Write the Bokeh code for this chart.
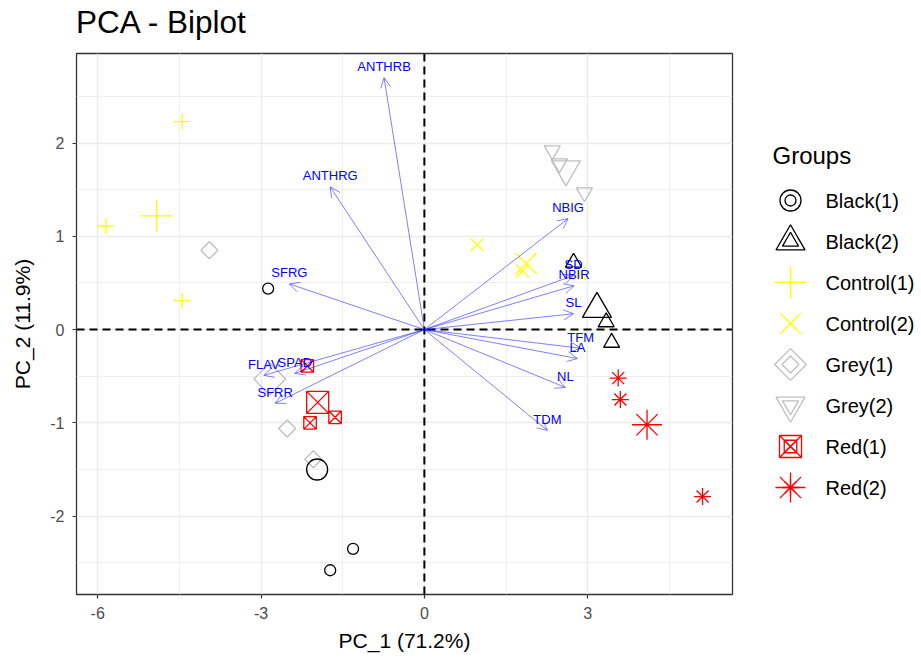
import math
from bokeh.plotting import figure
from bokeh.models import ColumnDataSource, Range1d, FixedTicker, Span, Arrow, OpenHead, Div
from bokeh.layouts import row, column
from bokeh.embed import file_html
from bokeh.resources import INLINE
from bokeh.core.properties import value

# ---------------- data ----------------
groups = ["Black(1)", "Black(2)", "Control(1)", "Control(2)",
          "Grey(1)", "Grey(2)", "Red(1)", "Red(2)"]
group_colors = ["#000000", "#000000", "#ffff00", "#ffff00",
                "#bebebe", "#bebebe", "#ff0000", "#ff0000"]

ind_group = ["Black(1)", "Black(1)", "Black(1)",
             "Black(2)", "Black(2)", "Black(2)",
             "Control(1)", "Control(1)", "Control(1)",
             "Control(2)", "Control(2)", "Control(2)",
             "Grey(1)", "Grey(1)", "Grey(1)",
             "Grey(2)", "Grey(2)", "Grey(2)",
             "Red(1)", "Red(1)", "Red(1)",
             "Red(2)", "Red(2)", "Red(2)"]
ind_pc1 = [-2.87, -1.31, -1.73,
           2.74, 3.34, 3.44,
           -4.45, -5.85, -4.45,
           0.97, 1.80, 2.85,
           -3.95, -2.52, -2.04,
           2.35, 2.48, 2.94,
           -2.15, -1.64, -2.10,
           3.56, 3.60, 5.11]
ind_pc2 = [0.44, -2.35, -2.58,
           0.72, 0.08, -0.14,
           2.23, 1.11, 0.31,
           0.91, 0.63, 0.60,
           0.85, -1.06, -1.39,
           1.92, 1.78, 1.47,
           -0.39, -0.94, -1.00,
           -0.52, -0.75, -1.79]

mean_pc1 = [-1.97, 3.17, -4.92, 1.87, -2.84, 2.60, -1.96, 4.09]
mean_pc2 = [-1.50, 0.22, 1.22, 0.71, -0.53, 1.72, -0.78, -1.02]

var_names = ["ANTHRB", "ANTHRG", "SFRG", "NBIG", "SD", "NBIR", "SL",
             "TFM", "LA", "NL", "TDM", "FLAV", "SPAD", "SFRR"]
var_pc1 = [-0.74, -1.73, -2.48, 2.64, 2.74, 2.75, 2.74,
           2.87, 2.81, 2.59, 2.26, -2.95, -2.38, -2.74]
var_pc2 = [2.70, 1.53, 0.49, 1.19, 0.58, 0.47, 0.17,
           -0.20, -0.31, -0.62, -1.08, -0.49, -0.47, -0.79]

x_ticks = [-6, -3, 0, 3]
x_minor = [-4.5, -1.5, 1.5, 4.5]
y_ticks = [-2, -1, 0, 1, 2]
y_minor = [-2.5, -1.5, -0.5, 0.5, 1.5, 2.5]

title_text = "PCA - Biplot"
x_label = "PC_1 (71.2%)"
y_label = "PC_2 (11.9%)"
legend_title = "Groups"

# ---------------- styles ----------------
FONT = "Liberation Sans"
marker_style = {
    "Black(1)":   dict(marker="circle", small=11, large=21, angle=0.0),
    "Black(2)":   dict(marker="triangle", small=16, large=29, angle=0.0),
    "Control(1)": dict(marker="cross", small=16, large=32, angle=0.0),
    "Control(2)": dict(marker="x", small=18, large=30, angle=0.0),
    "Grey(1)":    dict(marker="square", small=12, large=22.5, angle=math.pi / 4),
    "Grey(2)":    dict(marker="inverted_triangle", small=16, large=29, angle=0.0),
    "Red(1)":     dict(marker="square_x", small=12.5, large=22, angle=0.0),
    "Red(2)":     dict(marker="asterisk", small=17, large=30, angle=0.0),
}

TITLE_H = 44                      # height of the title strip above the plots
FRAME_TOP, FRAME_BOTTOM = 53, 594  # frame edges in page pixels
MAIN_W, FIG_H = 745, 614
LEG_W = 174

title_div = Div(text=title_text, width=MAIN_W + LEG_W, height=TITLE_H, margin=(0, 0, 0, 0),
                styles={"font-family": FONT, "font-size": "31.5px", "line-height": "44px",
                        "color": "black", "padding-left": "76px", "white-space": "nowrap"})

p = figure(width=MAIN_W, height=FIG_H,
           x_range=Range1d(-6.39, 5.66), y_range=Range1d(-2.84, 2.96),
           output_backend="svg", toolbar_location=None,
           min_border_left=76, min_border_right=13,
           min_border_top=FRAME_TOP - TITLE_H,
           min_border_bottom=FIG_H - (FRAME_BOTTOM - TITLE_H))
p.background_fill_color = "white"
p.border_fill_color = "white"
p.outline_line_color = "#333333"
p.outline_line_width = 1.3

p.xaxis.ticker = FixedTicker(ticks=x_ticks, minor_ticks=x_minor)
p.yaxis.ticker = FixedTicker(ticks=y_ticks, minor_ticks=y_minor)
p.xaxis.major_label_overrides = {t: str(t) for t in x_ticks}
p.yaxis.major_label_overrides = {t: str(t) for t in y_ticks}
for ax in (p.xaxis, p.yaxis):
    ax.axis_line_color = None
    ax.major_tick_line_color = "#333333"
    ax.major_tick_line_width = 1.2
    ax.major_tick_out = 4
    ax.major_tick_in = 0
    ax.minor_tick_line_color = None
    ax.major_label_text_font = FONT
    ax.major_label_text_font_size = "16px"
    ax.major_label_text_color = "#4d4d4d"
    ax.axis_label_text_font = FONT
    ax.axis_label_text_font_size = "21px"
    ax.axis_label_text_font_style = "normal"
    ax.axis_label_text_color = "black"
p.xaxis.major_label_standoff = 8
p.xaxis.axis_label_standoff = 7
p.yaxis.major_label_standoff = 8
p.yaxis.axis_label_standoff = 13
p.xaxis.axis_label = x_label
p.yaxis.axis_label = y_label

for g in (p.xgrid, p.ygrid):
    g.grid_line_color = "#ebebeb"
    g.grid_line_width = 1.4
    g.minor_grid_line_color = "#ebebeb"
    g.minor_grid_line_width = 0.8

# individuals
for gname, col in zip(groups, group_colors):
    st = marker_style[gname]
    xs = [x for x, g in zip(ind_pc1, ind_group) if g == gname]
    ys = [y for y, g in zip(ind_pc2, ind_group) if g == gname]
    p.scatter(xs, ys, marker=st["marker"], size=st["small"], angle=st["angle"],
              fill_color=None, line_color=col, line_width=1.3)

# group means
for i, (gname, col) in enumerate(zip(groups, group_colors)):
    st = marker_style[gname]
    p.scatter([mean_pc1[i]], [mean_pc2[i]], marker=st["marker"], size=st["large"],
              angle=st["angle"], fill_color=None, line_color=col, line_width=1.3)

# reference lines
p.add_layout(Span(location=0, dimension="height", line_color="black",
                  line_width=2, line_dash="8 5"))
p.add_layout(Span(location=0, dimension="width", line_color="black",
                  line_width=2, line_dash="8 5"))

# variable arrows
vsrc = ColumnDataSource(dict(x0=[0.0] * len(var_names), y0=[0.0] * len(var_names),
                             x1=var_pc1, y1=var_pc2, name=var_names))
p.add_layout(Arrow(x_start="x0", y_start="y0", x_end="x1", y_end="y1", source=vsrc,
                   line_color="blue", line_alpha=0.5, line_width=1,
                   end=OpenHead(size=10, line_color="blue", line_alpha=0.5, line_width=1)))
p.text(x="x1", y="y1", text="name", source=vsrc, text_align="center",
       text_baseline="middle", y_offset=-11, text_font=value(FONT),
       text_font_size="13px", text_color="blue")

# ---------------- legend panel ----------------
# frames of plots in a row are aligned, so this panel's frame spans FRAME_TOP..FRAME_BOTTOM
leg = figure(width=LEG_W, height=FIG_H,
             x_range=Range1d(MAIN_W, MAIN_W + LEG_W),
             y_range=Range1d(FRAME_BOTTOM, FRAME_TOP),
             output_backend="svg", toolbar_location=None, min_border=0,
             x_axis_location=None, y_axis_location=None)
leg.outline_line_color = None
leg.grid.visible = False
leg.background_fill_color = "white"
leg.border_fill_color = "white"

leg.text(x=[772], y=[155], text=[legend_title], text_baseline="middle",
         text_font=value(FONT), text_font_size="24px", text_color="black")
leg_y = [200 + 41 * i for i in range(len(groups))]
for i, (gname, col) in enumerate(zip(groups, group_colors)):
    st = marker_style[gname]
    for sz in (st["small"], st["large"]):
        leg.scatter([790], [leg_y[i]], marker=st["marker"], size=sz, angle=st["angle"],
                    fill_color=None, line_color=col, line_width=1.3)
leg.text(x=[825] * len(groups), y=leg_y, text=groups, text_baseline="middle",
         text_font=value(FONT), text_font_size="20px", text_color="black")

layout = column(title_div, row(p, leg))
open("out.html", "w").write(file_html(layout, INLINE))
